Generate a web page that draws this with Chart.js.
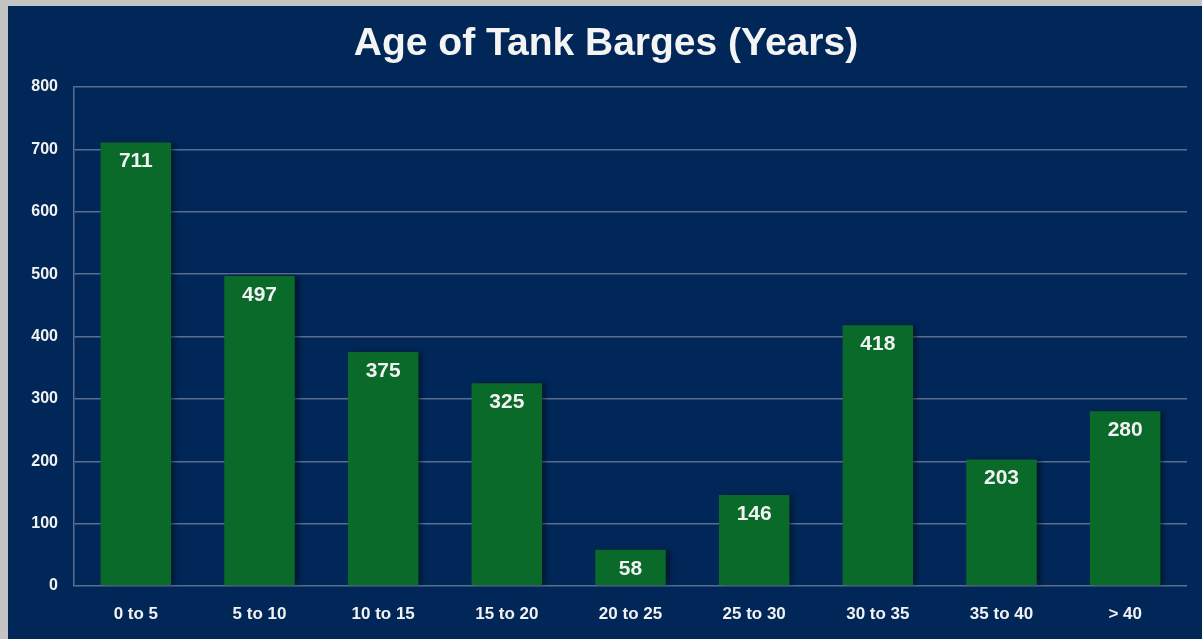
<!DOCTYPE html>
<html>
<head>
<meta charset="utf-8">
<script src="https://cdn.jsdelivr.net/npm/chart.js@4/dist/chart.umd.min.js"></script>
<style>
html,body{margin:0;padding:0;background:#bfbfbf;}
#wrap{position:absolute;left:0;top:0;width:1202px;height:639px;}
</style>
</head>
<body>
<div id="wrap"><canvas id="c" width="1202" height="639"></canvas></div>
<script>
const categories = ["0 to 5","5 to 10","10 to 15","15 to 20","20 to 25","25 to 30","30 to 35","35 to 40","> 40"];
const barges = [711, 497, 375, 325, 58, 146, 418, 203, 280];
const yTicks = [0,100,200,300,400,500,600,700,800];
const titleText = "Age of Tank Barges (Years)";

const FONT = "'Liberation Sans', Arial, Helvetica, sans-serif";

const bgPlugin = {
  id: 'bg',
  beforeDraw(chart) {
    const ctx = chart.ctx;
    ctx.save();
    ctx.fillStyle = '#c4c4c4';
    ctx.fillRect(0, 0, chart.width, chart.height);
    ctx.fillStyle = '#012758';
    ctx.fillRect(8, 6, chart.width - 8, chart.height - 6);
    ctx.restore();
  }
};

const titlePlugin = {
  id: 'slideTitle',
  afterDraw(chart) {
    const ctx = chart.ctx;
    ctx.save();
    ctx.fillStyle = '#f4f4f4';
    ctx.font = 'bold 39px ' + FONT;
    ctx.textAlign = 'center';
    ctx.textBaseline = 'middle';
    ctx.fillText(titleText, 606, 44);
    ctx.restore();
  }
};

const shadowPlugin = {
  id: 'shadow',
  beforeDatasetDraw(chart) {
    const ctx = chart.ctx;
    ctx.save();
    ctx.shadowColor = 'rgba(0,0,0,0.45)';
    ctx.shadowOffsetX = 4;
    ctx.shadowOffsetY = 0;
    ctx.shadowBlur = 5;
  },
  afterDatasetDraw(chart) {
    chart.ctx.restore();
  }
};

const labelPlugin = {
  id: 'valLabels',
  afterDatasetsDraw(chart) {
    const ctx = chart.ctx;
    const meta = chart.getDatasetMeta(0);
    ctx.save();
    ctx.fillStyle = '#f2f2f2';
    ctx.font = 'bold 21px ' + FONT;
    ctx.textAlign = 'center';
    ctx.textBaseline = 'middle';
    meta.data.forEach((bar, i) => {
      ctx.fillText(String(barges[i]), bar.x, bar.y + 19);
    });
    ctx.restore();
  }
};

new Chart(document.getElementById('c'), {
  type: 'bar',
  data: {
    labels: categories,
    datasets: [{
      data: barges,
      backgroundColor: '#0a6a2a',
      borderWidth: 0,
      categoryPercentage: 1,
      barPercentage: 0.57
    }]
  },
  options: {
    responsive: false,
    animation: false,
    layout: { padding: { left: 0, right: 15, top: 87, bottom: 0 } },
    plugins: {
      legend: { display: false },
      tooltip: { enabled: false },
      title: { display: false }
    },
    scales: {
      x: {
        grid: { display: false, drawTicks: false },
        border: { display: false },
        ticks: {
          color: '#f2f2f2',
          font: { family: FONT, size: 17, weight: 'bold' },
          padding: 18,
          maxRotation: 0
        },
        afterFit(scale) { scale.height = 53; }
      },
      y: {
        min: 0,
        max: 800,
        afterBuildTicks(scale) { scale.ticks = yTicks.map(v => ({ value: v })); },
        grid: { color: '#5a6f8e', lineWidth: 1.5, drawTicks: false },
        border: { display: true, color: '#5a6f8e', width: 1.5 },
        ticks: {
          color: '#f2f2f2',
          font: { family: FONT, size: 16, weight: 'bold' },
          padding: 16
        },
        afterFit(scale) { scale.width = 74; }
      }
    }
  },
  plugins: [bgPlugin, shadowPlugin, labelPlugin, titlePlugin]
});
</script>
</body>
</html>
